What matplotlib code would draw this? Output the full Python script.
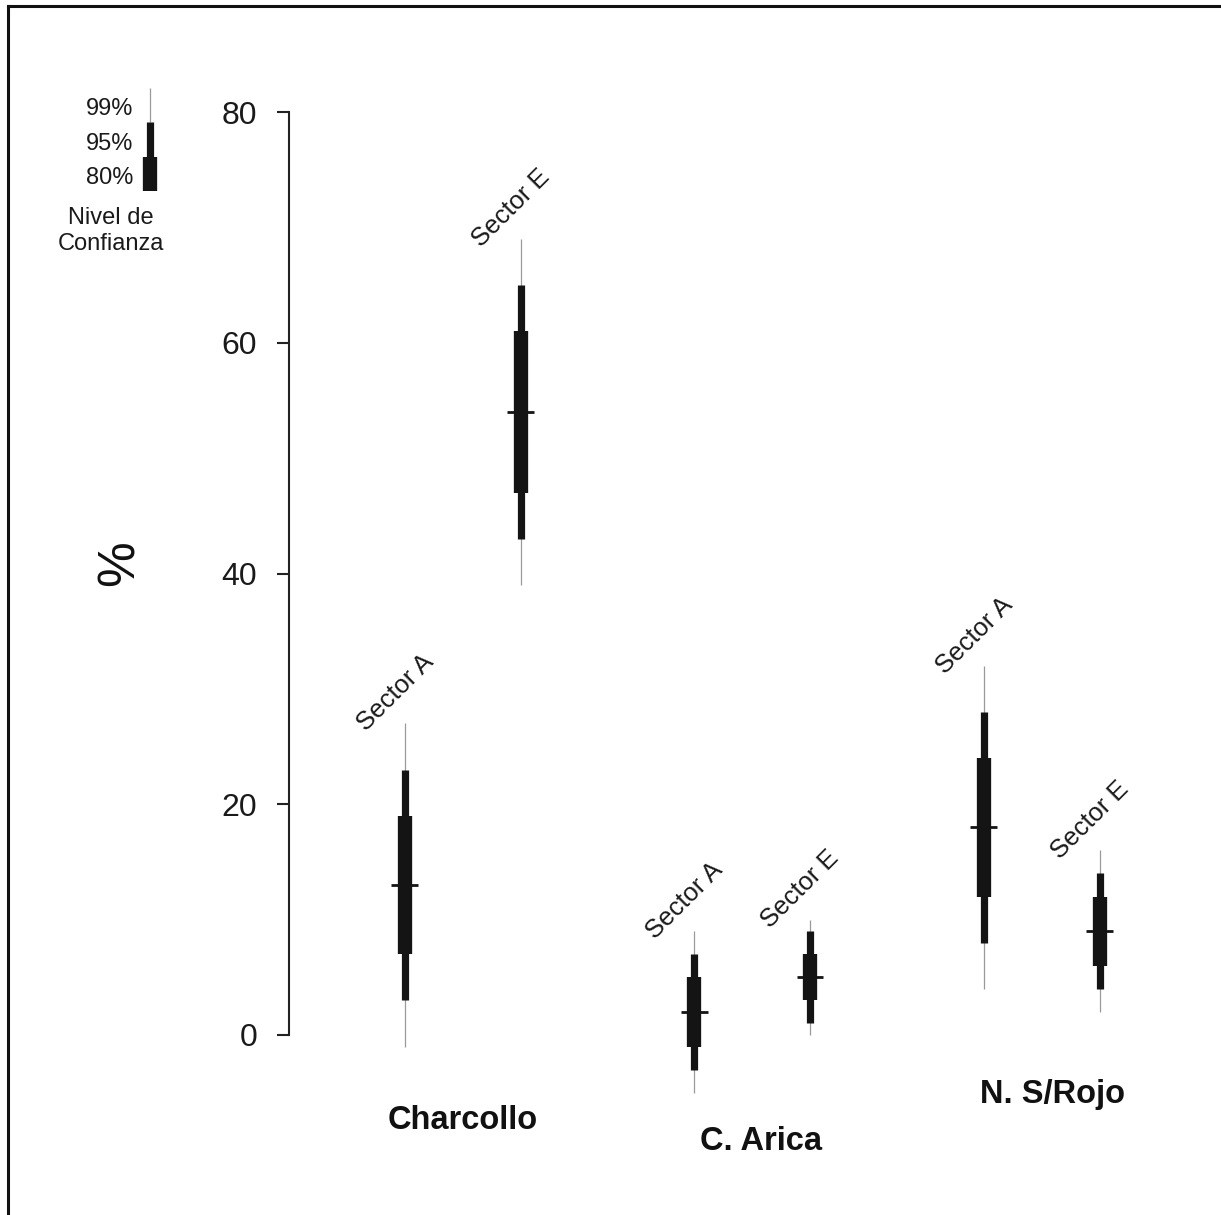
import matplotlib
matplotlib.use("Agg")
import matplotlib.pyplot as plt
from matplotlib.lines import Line2D

plt.rcParams["font.family"] = ["Liberation Sans", "DejaVu Sans"]

# Sites and sectors
groups = ["Charcollo", "C. Arica", "N. S/Rojo"]
sectors = ["Sector A", "Sector E", "Sector A", "Sector E", "Sector A", "Sector E"]
group_of = [0, 0, 1, 1, 2, 2]

# Point estimate (%) and confidence limits
median = [13, 54, 2, 5, 18, 9]
lo80 = [7, 47, -1, 3, 12, 6]
hi80 = [19, 61, 5, 7, 24, 12]
lo95 = [3, 43, -3, 1, 8, 4]
hi95 = [23, 65, 7, 9, 28, 14]
lo99 = [-1, 39, -5, 0, 4, 2]
hi99 = [27, 69, 9, 10, 32, 16]

level_labels = ["99%", "95%", "80%"]
yticks = [0, 20, 40, 60, 80]

W, H, DPI = 1221, 1215, 100
fig = plt.figure(figsize=(W / DPI, H / DPI), dpi=DPI)
fig.patch.set_facecolor("white")

# x positions: pairs within a site, wider gap between sites
gap_in, gap_out = 1.0, 1.5
xpos = []
x = 1.0
for i, g in enumerate(group_of):
    if i > 0:
        x += gap_in if g == group_of[i - 1] else gap_out
    xpos.append(x)

# main axes, placed in pixel terms
left_px, right_px = 289, 1210
ybot, ytop = -6.0, 81.0
y0_px, y80_px = 1035, 112
ppu = (y0_px - y80_px) / 80.0
top_px = y0_px - ytop * ppu
bot_px = y0_px - ybot * ppu
ax = fig.add_axes([left_px / W, 1 - bot_px / H,
                   (right_px - left_px) / W, (bot_px - top_px) / H])
xppu = 115.8
ax.set_xlim(0, (right_px - left_px) / xppu)
ax.set_ylim(ybot, ytop)

dark = "#141414"
thin = "#9a9a9a"
for i, xp in enumerate(xpos):
    ax.vlines(xp, lo99[i], hi99[i], colors=thin, linewidth=0.9, capstyle="butt")
    ax.vlines(xp, lo95[i], hi95[i], colors=dark, linewidth=5.2, capstyle="butt")
    ax.vlines(xp, lo80[i], hi80[i], colors=dark, linewidth=10.3, capstyle="butt")
    ax.hlines(median[i], xp - 0.115, xp + 0.115, colors=dark, linewidth=2.0)
    ax.annotate(sectors[i], (xp, hi99[i]), xytext=(-7, 22),
                textcoords="offset points", ha="center", va="center",
                rotation=45, fontsize=18.5, color="#1a1a1a")

# site names below the marks
name_dx = [0.0, 0.08, 0.09]
name_y = [-7.4, -9.2, -5.2]
for gi, name in enumerate(groups):
    xs = [xpos[i] for i in range(len(xpos)) if group_of[i] == gi]
    cx = sum(xs) / len(xs) + name_dx[gi]
    ax.text(cx, name_y[gi], name, ha="center", va="center",
            fontsize=23.5, fontweight="bold", color="#111111", clip_on=False)

for s in ["top", "right", "bottom"]:
    ax.spines[s].set_visible(False)
ax.spines["left"].set_bounds(0, 80)
ax.spines["left"].set_linewidth(1.5)
ax.spines["left"].set_color("#222222")
ax.set_xticks([])
ax.set_yticks(yticks)
ax.set_yticklabels([str(t) for t in yticks])
ax.tick_params(axis="y", length=9, width=1.5, pad=14, labelsize=23,
               colors="#222222", labelcolor="#1a1a1a")
ax.set_facecolor("none")

fig.text(120 / W, 1 - 563 / H, "%", rotation=90, ha="center", va="center",
         fontsize=37, color="#111111")

# confidence-level key
kx = 150
k_edges = [88, 122, 157, 191]
lax = fig.add_axes([0, 0, 1, 1])
lax.set_xlim(0, W)
lax.set_ylim(H, 0)
lax.axis("off")
lax.vlines(kx, k_edges[0], k_edges[1], colors=thin, linewidth=0.9, capstyle="butt")
lax.vlines(kx, k_edges[1], k_edges[2], colors=dark, linewidth=5.2, capstyle="butt")
lax.vlines(kx, k_edges[2], k_edges[3], colors=dark, linewidth=10.3, capstyle="butt")
for j, lab in enumerate(level_labels):
    yc = (k_edges[j] + k_edges[j + 1]) / 2 + 4
    lax.text(133, yc, lab, ha="right", va="center", fontsize=17, color="#1a1a1a")
lax.text(111, 231, "Nivel de\nConfianza", ha="center", va="center",
         fontsize=17, color="#1a1a1a", linespacing=1.25)

# outer frame: top and left edges
lax.add_line(Line2D([8, W], [6, 6], color="#111111", linewidth=2.2))
lax.add_line(Line2D([8, 8], [6, H], color="#111111", linewidth=2.2))

fig.savefig("out.png", dpi=DPI, facecolor="white")
